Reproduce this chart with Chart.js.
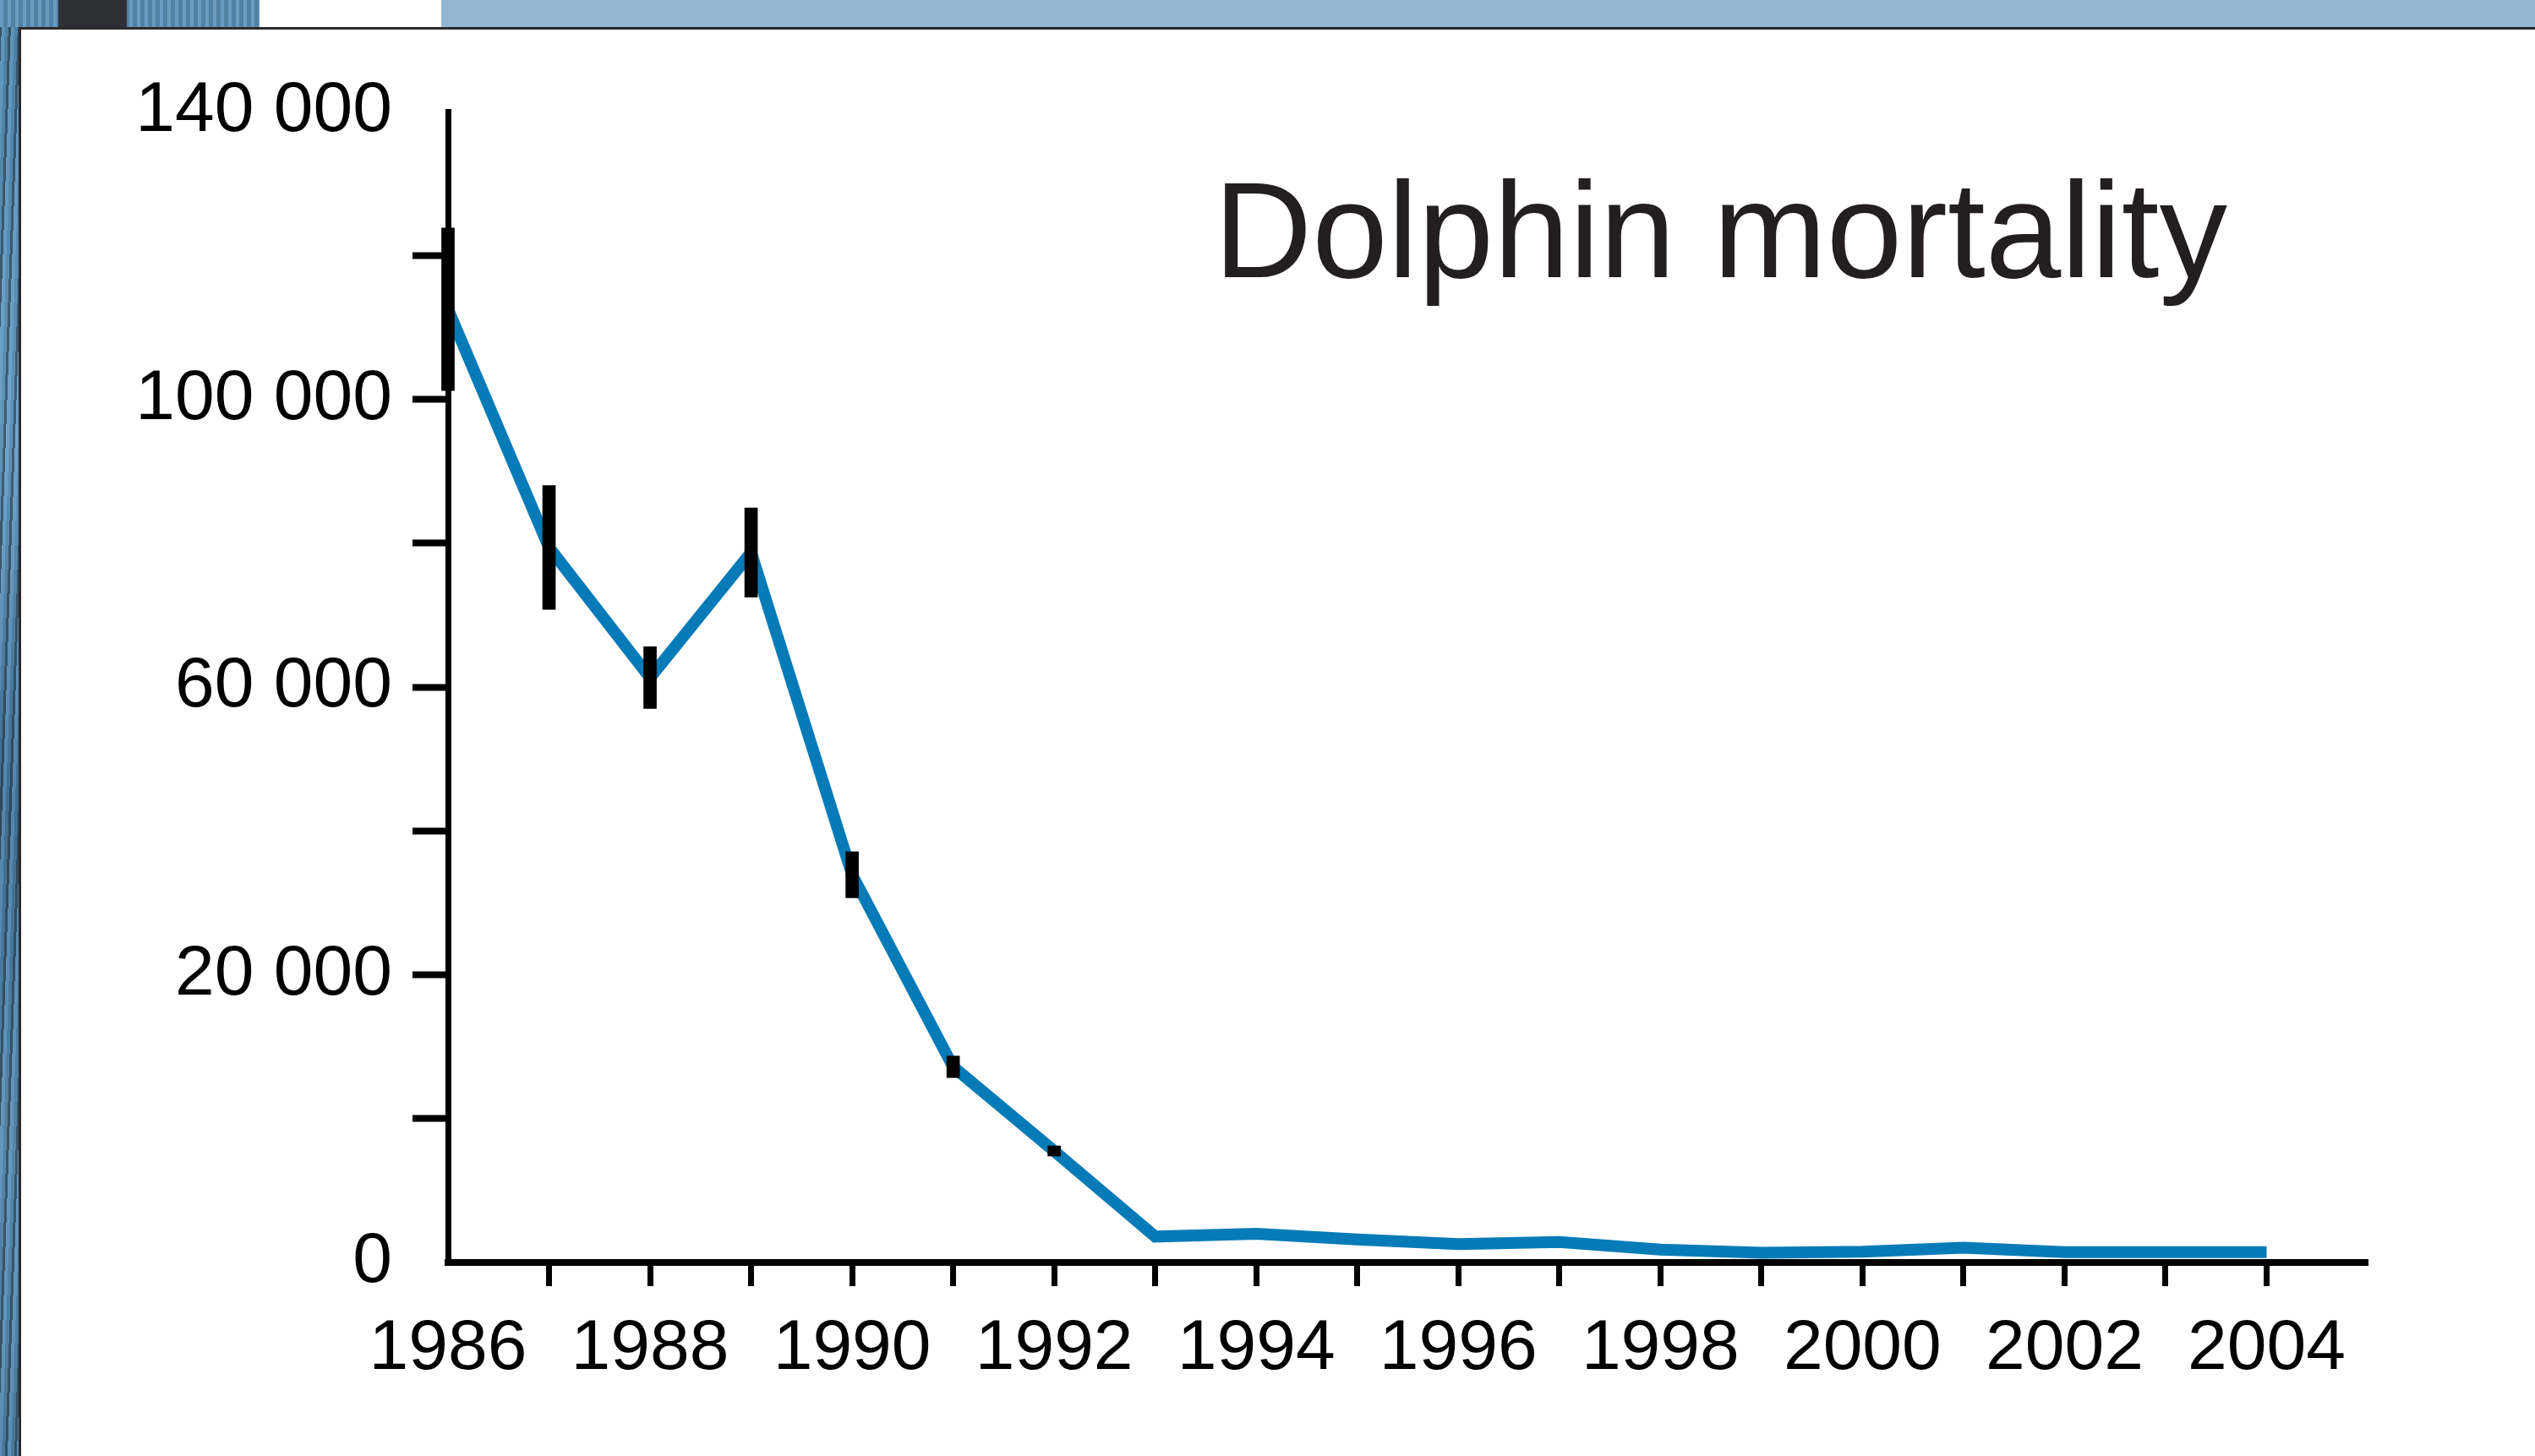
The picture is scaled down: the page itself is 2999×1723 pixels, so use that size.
<!DOCTYPE html>
<html>
<head>
<meta charset="utf-8">
<script src="https://cdn.jsdelivr.net/npm/chart.js@4.4.1/dist/chart.umd.min.js"></script>
<style>
  html, body { margin: 0; padding: 0; }
  body {
    width: 2999px; height: 1723px; overflow: hidden; position: relative;
    background: #5a8db2;
  }
  /* photo strip along the left edge and top-left corner */
  .photo-left {
    position: absolute; left: 0; top: 0; width: 22px; height: 1723px;
    background:
      repeating-linear-gradient(92deg, rgba(30,40,50,0.55) 0 3px, rgba(120,170,210,0.35) 3px 7px, rgba(60,100,130,0.2) 7px 11px),
      linear-gradient(180deg, #4f86ad 0%, #6aa0c8 30%, #3f6f92 55%, #5b8fb3 80%, #4c7fa3 100%);
  }
  .photo-top {
    position: absolute; left: 0; top: 0; width: 307px; height: 32px;
    background:
      linear-gradient(90deg, transparent 0 69px, #2e3035 69px 150px, transparent 150px),
      repeating-linear-gradient(90deg, rgba(120,170,210,0.5) 0 4px, rgba(60,100,130,0.3) 4px 9px),
      #5a8db2;
  }
  .strip-white { position: absolute; left: 307px; top: 0; width: 215px; height: 32px; background: #ffffff; }
  .strip-blue { position: absolute; left: 522px; top: 0; width: 2477px; height: 32px; background: #93b7d3; }
  .panel {
    position: absolute; left: 22px; top: 32px; right: 0; bottom: 0;
    background: #ffffff;
    border-top: 3px solid #2b2b2d;
    border-left: 3px solid #2b2b2d;
  }
  #wrap { position: absolute; left: 0; top: 0; width: 2999px; height: 1723px; }
  .title {
    position: absolute; left: 1436px; top: 192px;
    font-family: 'Liberation Sans', Arial, Helvetica, sans-serif;
    font-size: 161px; line-height: 1; color: #231f20; white-space: nowrap;
  }
</style>
</head>
<body>
<div class="photo-left"></div>
<div class="photo-top"></div>
<div class="strip-white"></div>
<div class="strip-blue"></div>
<div class="panel"></div>
<div id="wrap"><canvas id="chart"></canvas></div>
<div class="title">Dolphin mortality</div>

<script>
// Years on the x axis
const years = [1986, 1987, 1988, 1989, 1990, 1991, 1992, 1993, 1994, 1995,
               1996, 1997, 1998, 1999, 2000, 2001, 2002, 2003, 2004];

// Dolphins killed per year
const mortality = [132500, 99400, 81300, 98700, 53900, 27200, 15500, 3600, 4000, 3200,
                   2550, 2850, 1800, 1350, 1500, 2050, 1450, 1450, 1450];

// Half-height of the black error bars (only the early years have them)
const errorYears = [1986, 1987, 1988, 1989, 1990, 1991, 1992];
const errorMargin = [11300, 8600, 4300, 6200, 3200, 1500, 700];

// Y tick labels exactly as printed on the original axis
const yTickLabels = ['0', '', '20 000', '', '60 000', '', '100 000', '', '140 000'];

const FONT = "'Liberation Sans', Arial, Helvetica, sans-serif";
const TRANSPARENT = 'rgba(0,0,0,0)';

const lineData = years.map((y, i) => ({ x: y, y: mortality[i] }));
const errorData = errorYears.map((y, i) => {
    const v = mortality[years.indexOf(y)];
    return { x: y, y: [v - errorMargin[i], v + errorMargin[i]] };
});

const ctx = document.getElementById('chart').getContext('2d');
new Chart(ctx, {
    type: 'line',
    data: {
        datasets: [
            {
                type: 'bar',
                label: 'Error',
                data: errorData,
                backgroundColor: '#000000',
                borderWidth: 0,
                barThickness: 15,
                clip: false,
                order: 0
            },
            {
                type: 'line',
                label: 'Dolphin mortality',
                data: lineData,
                borderColor: '#077bb8',
                borderWidth: 14,
                borderJoinStyle: 'miter',
                borderCapStyle: 'butt',
                pointRadius: 0,
                tension: 0,
                fill: false,
                clip: false,
                order: 1
            }
        ]
    },
    options: {
        responsive: true,
        maintainAspectRatio: false,
        animation: false,
        events: [],
        layout: { padding: { left: 0, top: 132, right: 198, bottom: 0 } },
        plugins: {
            legend: { display: false },
            tooltip: { enabled: false },
            title: { display: false }
        },
        scales: {
            x: {
                type: 'linear',
                min: 1986,
                max: 2005,
                offset: false,
                afterFit: (scale) => { scale.height = 229; },
                grid: {
                    offset: false,
                    drawOnChartArea: false,
                    drawTicks: true,
                    tickLength: 28,
                    tickWidth: 7,
                    tickColor: (c) => (c.tick && (c.tick.value === 1986 || c.tick.value === 2005)) ? TRANSPARENT : '#000000'
                },
                border: { display: true, color: '#000000', width: 8 },
                ticks: {
                    stepSize: 1,
                    autoSkip: false,
                    maxRotation: 0,
                    padding: 24,
                    color: '#000000',
                    font: { family: FONT, size: 84 },
                    callback: (value) => (value % 2 === 0 && value <= 2004) ? String(value) : ''
                }
            },
            y: {
                type: 'linear',
                min: 0,
                max: 160000,
                afterFit: (scale) => { scale.width = 530; },
                grid: {
                    drawOnChartArea: false,
                    drawTicks: true,
                    tickLength: 42,
                    tickWidth: 8,
                    tickColor: (c) => (c.tick && (c.tick.value === 0 || c.tick.value === 160000)) ? TRANSPARENT : '#000000'
                },
                border: { display: true, color: '#000000', width: 7 },
                ticks: {
                    stepSize: 20000,
                    autoSkip: false,
                    padding: 24,
                    color: '#000000',
                    font: { family: FONT, size: 84 },
                    callback: (value, index) => yTickLabels[index]
                }
            }
        }
    }
});
</script>
</body>
</html>
